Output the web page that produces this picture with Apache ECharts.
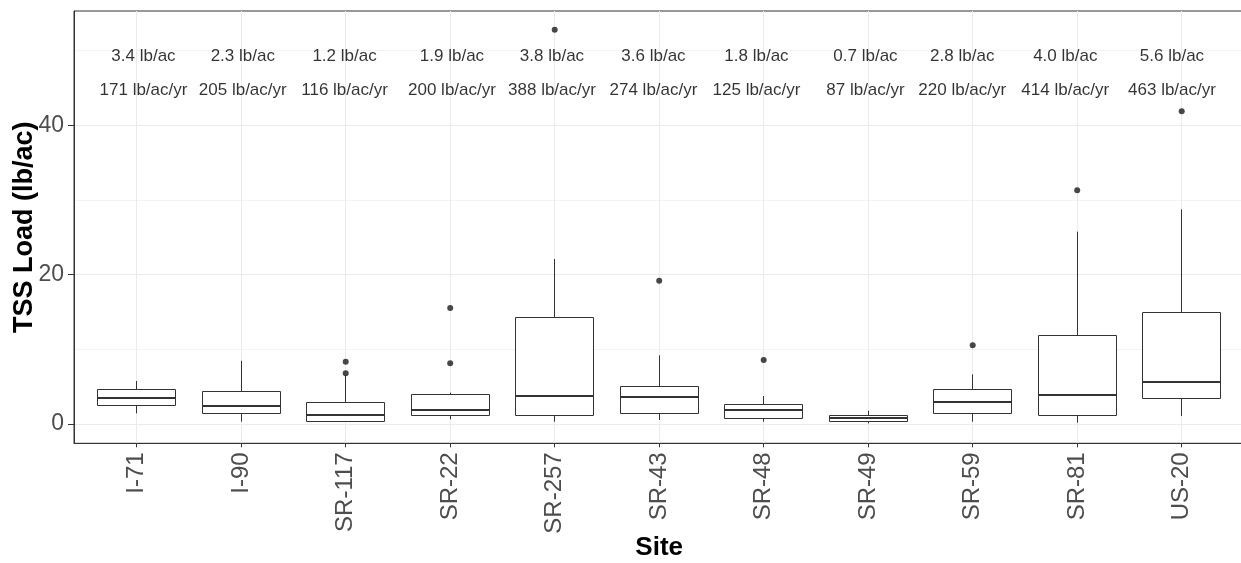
<!DOCTYPE html>
<html>
<head>
<meta charset="utf-8">
<script src="https://cdn.jsdelivr.net/npm/echarts@6/dist/echarts.min.js"></script>
<style>
html, body { margin: 0; padding: 0; background: #ffffff; }
#chart { width: 1241px; height: 563px; }
</style>
</head>
<body>
<div id="chart"></div>
<script>
// ---- data ----
var sites = ['I-71', 'I-90', 'SR-117', 'SR-22', 'SR-257', 'SR-43', 'SR-48', 'SR-49', 'SR-59', 'SR-81', 'US-20'];
var whiskerLow  = [1.43, 0.31, 0.35, 0.63, 0.31, 0.54, 0.31, 0.09, 0.31, 0.18, 1.07];
var q1          = [2.50, 1.43, 0.40, 1.20, 1.16, 1.43, 0.71, 0.40, 1.43, 1.16, 3.44];
var median      = [3.53, 2.45, 1.20, 1.87, 3.79, 3.66, 1.87, 0.76, 2.90, 3.93, 5.62];
var q3          = [4.69, 4.33, 2.86, 4.02, 14.33, 5.09, 2.68, 1.16, 4.65, 11.79, 14.96];
var whiskerHigh = [5.76, 8.48, 6.50, 4.20, 22.10, 9.20, 3.75, 1.78, 6.65, 25.76, 28.75];
var outliers = [[], [], [8.35, 6.79], [15.54, 8.13], [52.8], [19.2], [8.57], [], [10.54], [31.3], [41.9]];
var perEventLoad = [3.4, 2.3, 1.2, 1.9, 3.8, 3.6, 1.8, 0.7, 2.8, 4.0, 5.6];
var annualLoad   = [171, 205, 116, 200, 388, 274, 125, 87, 220, 414, 463];
var labelX = [1.065, 2.015, 2.989, 4.017, 4.974, 5.945, 6.931, 7.974, 8.900, 9.886, 10.907];
var labelYTop = 49.2;
var labelYBottom = 44.7;
var yTicks = [0, 20, 40];
var yMinorTicks = [10, 30, 50];

// ---- build series data ----
var boxData = sites.map(function (s, i) {
  return [i + 1, whiskerLow[i], q1[i], median[i], q3[i], whiskerHigh[i]];
});
var outlierData = [];
outliers.forEach(function (arr, i) {
  arr.forEach(function (v) { outlierData.push([i + 1, v]); });
});
var topLabels = perEventLoad.map(function (v, i) {
  return [labelX[i], labelYTop, v.toFixed(1) + ' lb/ac'];
});
var bottomLabels = annualLoad.map(function (v, i) {
  return [labelX[i], labelYBottom, v + ' lb/ac/yr'];
});
var xTicks = sites.map(function (s, i) { return i + 1; });

var FONT = '"Liberation Sans", Arial, sans-serif';
var INK = '#333333';

function crisp(v) { return Math.round(v - 0.5) + 0.5; }

function renderBox(params, api) {
  var x = api.value(0);
  var lo = api.coord([x, api.value(1)]);
  var b1 = api.coord([x, api.value(2)]);
  var md = api.coord([x, api.value(3)]);
  var b3 = api.coord([x, api.value(4)]);
  var hi = api.coord([x, api.value(5)]);
  var half = api.size([0.75, 0])[0] / 2;
  var cx = crisp(lo[0]);
  var left = crisp(cx - half), right = crisp(cx + half);
  var yTop = crisp(b3[1]), yBot = crisp(b1[1]);
  var lineStyle = { stroke: INK, lineWidth: 1, fill: null };
  return {
    type: 'group',
    children: [
      { type: 'line', shape: { x1: cx, y1: lo[1], x2: cx, y2: yBot }, style: lineStyle },
      { type: 'line', shape: { x1: cx, y1: yTop, x2: cx, y2: hi[1] }, style: lineStyle },
      { type: 'rect', shape: { x: left, y: yTop, width: right - left, height: yBot - yTop },
        style: { fill: '#ffffff', stroke: INK, lineWidth: 1 } },
      { type: 'line', shape: { x1: left, y1: Math.round(md[1]), x2: right, y2: Math.round(md[1]) },
        style: { stroke: INK, lineWidth: 2 } }
    ]
  };
}

var chart = echarts.init(document.getElementById('chart'), null, { renderer: 'canvas' });
chart.setOption({
  animation: false,
  backgroundColor: '#ffffff',
  grid: {
    left: 74, top: 11, width: 1170.4, height: 432.3,
    outerBoundsMode: 'none',
    show: true, borderColor: INK, borderWidth: 1, backgroundColor: '#ffffff',
    containLabel: false
  },
  xAxis: {
    type: 'value', min: 0.4, max: 11.6,
    name: 'Site', nameLocation: 'middle', nameGap: 92, nameMoveOverlap: false,
    nameTextStyle: { fontFamily: FONT, fontSize: 26, fontWeight: 'bold', color: '#000000' },
    axisLine: { show: true, onZero: false, lineStyle: { color: INK, width: 1 } },
    axisTick: { show: true, customValues: xTicks, length: 4, lineStyle: { color: INK, width: 1 } },
    axisLabel: {
      customValues: xTicks, rotate: 90, margin: 9,
      fontFamily: FONT, fontSize: 24, color: '#4D4D4D',
      formatter: function (v) { return sites[Math.round(v) - 1]; }
    },
    splitLine: { show: true, lineStyle: { color: '#EBEBEB', width: 1 } }
  },
  yAxis: [{
    type: 'value', min: -2.58, max: 55.31,
    name: 'TSS Load (lb/ac)', nameLocation: 'middle', nameGap: 36, nameMoveOverlap: false,
    nameTextStyle: { fontFamily: FONT, fontSize: 27, fontWeight: 'bold', color: '#000000' },
    axisLine: { show: true, onZero: false, lineStyle: { color: INK, width: 1 } },
    axisTick: { show: true, customValues: yTicks, length: 6, lineStyle: { color: INK, width: 1 } },
    axisLabel: { customValues: yTicks, margin: 10, fontFamily: FONT, fontSize: 23, color: '#4D4D4D' },
    splitLine: { show: true, lineStyle: { color: '#EBEBEB', width: 1 } }
  }, {
    type: 'value', min: -2.58, max: 55.31, position: 'left',
    axisLine: { show: false, onZero: false },
    axisTick: { show: false, customValues: yMinorTicks },
    axisLabel: { show: false, customValues: yMinorTicks },
    splitLine: { show: true, lineStyle: { color: '#F3F3F3', width: 1 } }
  }],
  series: [
    {
      type: 'custom', name: 'box', renderItem: renderBox,
      encode: { x: 0, y: [1, 2, 3, 4, 5] },
      data: boxData, z: 3, silent: true
    },
    {
      type: 'scatter', name: 'outliers', data: outlierData,
      symbol: 'circle', symbolSize: 6,
      itemStyle: { color: '#1A1A1A' }, z: 4, silent: true
    },
    {
      type: 'scatter', name: 'perEvent', data: topLabels, symbolSize: 0, silent: true, z: 5,
      label: { show: true, position: 'inside', fontFamily: FONT, fontSize: 17, color: '#000000',
        formatter: function (p) { return p.value[2]; } }
    },
    {
      type: 'scatter', name: 'annual', data: bottomLabels, symbolSize: 0, silent: true, z: 5,
      label: { show: true, position: 'inside', fontFamily: FONT, fontSize: 17, color: '#000000',
        formatter: function (p) { return p.value[2]; } }
    }
  ]
});
</script>
</body>
</html>
